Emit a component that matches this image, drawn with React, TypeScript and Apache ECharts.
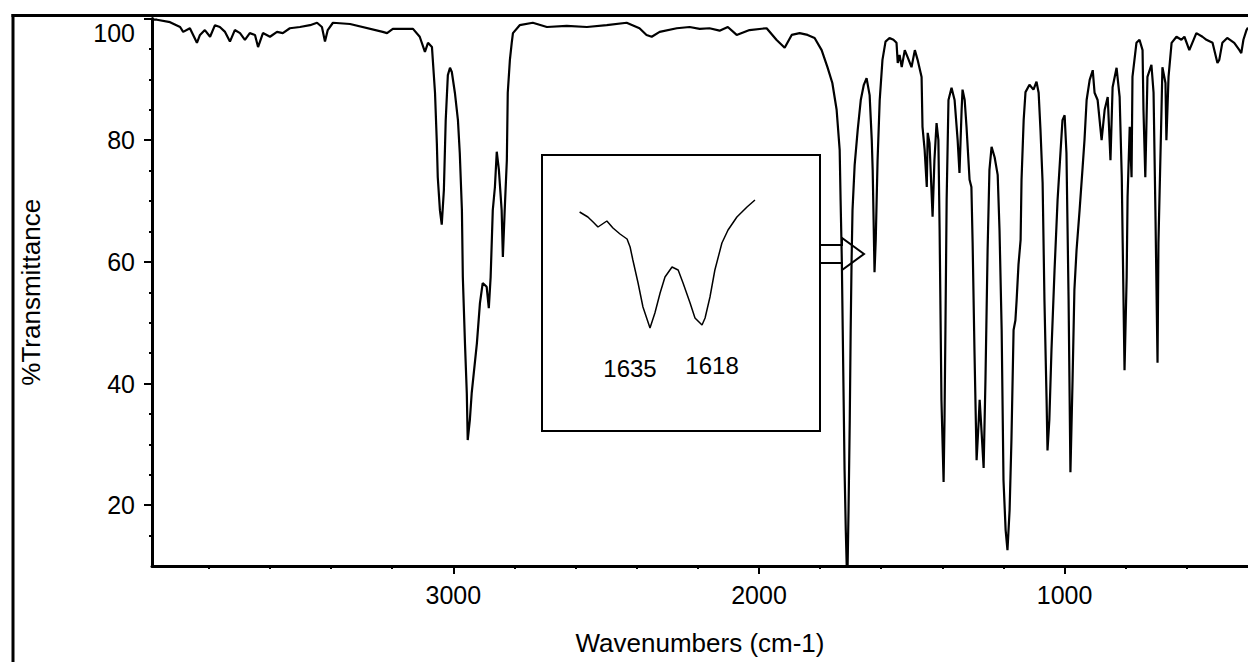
import React, { useEffect, useRef } from "react";
import * as echarts from "echarts";

// IR spectrum: [wavenumber cm-1, %T]
const spectrum: [number, number][] = [
  [3986, 99.8], [3970, 99.8], [3927, 99.4], [3894, 98.6], [3884, 97.8], [3862, 98.4], [3839, 96.0],
  [3829, 97.3], [3813, 98.1], [3796, 97.0], [3780, 98.9], [3764, 98.6], [3747, 97.8], [3731, 96.2],
  [3715, 98.1], [3698, 97.6], [3682, 96.5], [3666, 97.6], [3649, 97.3], [3639, 95.3], [3623, 97.6],
  [3600, 97.0], [3577, 97.8], [3558, 97.6], [3535, 98.4], [3502, 98.6], [3469, 98.9], [3446, 99.3],
  [3430, 98.6], [3420, 96.2], [3411, 98.1], [3394, 99.3], [3338, 99.1], [3231, 97.8], [3217, 97.6],
  [3198, 98.3], [3132, 98.3], [3110, 97.0], [3093, 94.5], [3083, 96.0], [3070, 95.3], [3060, 87.8],
  [3054, 79.5], [3051, 73.9], [3044, 68.5], [3038, 66.1], [3031, 71.8], [3025, 83.3], [3018, 90.7],
  [3011, 91.9], [3005, 91.2], [2995, 87.8], [2985, 83.3], [2979, 77.9], [2972, 68.5], [2969, 57.5],
  [2962, 46.6], [2956, 38.4], [2953, 30.7], [2946, 34.0], [2940, 38.4], [2923, 46.6], [2913, 53.2],
  [2904, 56.5], [2891, 55.9], [2884, 52.4], [2878, 57.5], [2871, 68.5], [2864, 72.3], [2858, 78.1],
  [2851, 75.1], [2842, 68.5], [2838, 60.8], [2832, 68.5], [2825, 76.7], [2822, 87.8], [2815, 93.2],
  [2809, 96.0], [2805, 97.6], [2783, 98.9], [2740, 99.3], [2694, 98.6], [2629, 98.8], [2563, 98.6],
  [2498, 98.9], [2433, 99.3], [2391, 98.4], [2368, 97.3], [2351, 97.0], [2325, 97.8], [2269, 98.4],
  [2227, 98.6], [2194, 98.3], [2162, 98.4], [2129, 98.0], [2102, 98.6], [2073, 97.3], [2031, 98.1],
  [1975, 98.4], [1943, 96.5], [1916, 95.2], [1893, 97.3], [1867, 97.6], [1841, 97.3], [1818, 96.8],
  [1795, 94.8], [1776, 92.0], [1760, 89.4], [1746, 85.0], [1736, 78.4], [1733, 70.2], [1729, 60.3],
  [1726, 48.8], [1723, 37.3], [1720, 25.8], [1716, 15.9], [1713, 10.1], [1710, 10.1], [1707, 19.2],
  [1703, 34.0], [1700, 48.8], [1697, 60.3], [1694, 68.5], [1687, 75.9], [1677, 81.7], [1667, 86.6],
  [1657, 89.1], [1648, 90.2], [1638, 87.4], [1631, 80.0], [1628, 75.1], [1625, 66.9], [1622, 58.3],
  [1618, 63.6], [1615, 70.2], [1612, 76.7], [1605, 86.6], [1596, 93.2], [1586, 96.2], [1573, 96.8],
  [1560, 96.5], [1550, 96.0], [1546, 92.7], [1540, 94.0], [1533, 92.0], [1523, 94.8], [1514, 93.7],
  [1501, 92.0], [1490, 94.8], [1481, 93.2], [1468, 90.4], [1465, 82.2], [1458, 78.4], [1451, 72.3],
  [1448, 81.2], [1442, 79.5], [1432, 67.4], [1426, 76.7], [1419, 82.8], [1413, 80.0], [1409, 65.2],
  [1403, 37.3], [1396, 23.8], [1393, 34.0], [1390, 48.8], [1386, 70.2], [1380, 86.6], [1370, 88.6],
  [1360, 86.6], [1350, 80.0], [1344, 74.6], [1337, 85.0], [1334, 88.3], [1327, 86.6], [1321, 82.2],
  [1311, 73.5], [1305, 72.3], [1301, 63.1], [1295, 45.5], [1288, 27.4], [1281, 34.0], [1278, 37.3],
  [1272, 32.3], [1265, 26.1], [1259, 40.6], [1252, 61.9], [1246, 75.1], [1239, 78.9], [1229, 77.2],
  [1219, 74.3], [1213, 65.2], [1206, 48.8], [1200, 24.1], [1193, 15.9], [1187, 12.6], [1180, 19.2],
  [1174, 30.7], [1167, 48.8], [1161, 50.4], [1157, 53.7], [1151, 59.5], [1144, 63.6], [1141, 73.5],
  [1134, 83.3], [1128, 87.9], [1115, 89.1], [1102, 88.3], [1092, 89.6], [1085, 87.8], [1079, 81.7],
  [1072, 73.0], [1066, 53.7], [1059, 37.3], [1056, 29.0], [1050, 34.0], [1043, 45.5], [1033, 58.6],
  [1023, 70.2], [1013, 78.4], [1007, 83.3], [1000, 84.1], [994, 77.9], [987, 53.7], [981, 25.4],
  [974, 40.6], [968, 55.4], [961, 61.9], [951, 68.5], [941, 75.6], [935, 80.0], [928, 86.6],
  [918, 89.9], [908, 91.5], [902, 87.8], [892, 86.6], [879, 80.0], [869, 85.0], [859, 87.1],
  [850, 76.7], [843, 88.7], [830, 91.9], [820, 87.1], [813, 73.9], [810, 63.1], [804, 42.2],
  [797, 57.5], [794, 70.7], [787, 82.2], [781, 73.9], [778, 90.4], [765, 96.0], [755, 96.5],
  [745, 94.8], [742, 85.0], [736, 73.9], [729, 90.4], [716, 92.4], [709, 87.8], [703, 68.5],
  [696, 43.4], [693, 63.1], [683, 85.0], [680, 92.0], [670, 89.4], [667, 80.0], [660, 90.4],
  [650, 96.0], [634, 97.0], [618, 96.5], [608, 97.0], [592, 94.8], [569, 97.6], [549, 97.0],
  [536, 96.5], [516, 96.0], [500, 92.7], [494, 93.2], [484, 96.0], [468, 96.8], [445, 96.0],
  [428, 94.8], [422, 94.3], [415, 96.5], [405, 98.1], [400, 98.5],
];

// Inset: expanded view of the 1660-1600 cm-1 doublet (relative %T)
const insetSpectrum: [number, number][] = [
  [1658, 70.6], [1655.3, 69.6], [1653.6, 68.6], [1652, 67.6], [1649.1, 68.8], [1647.1, 67.4],
  [1644.8, 66.2], [1642.5, 65.2], [1641.5, 63.6], [1640.6, 61.0], [1638.9, 56.4], [1637.3, 51.6],
  [1635, 47.4], [1633.4, 50.4], [1631.7, 54.4], [1630.1, 57.6], [1627.8, 59.6], [1625.8, 59.0],
  [1624.2, 56.4], [1621.9, 52.4], [1620.3, 49.4], [1618, 48.0], [1617, 49.4], [1615.4, 53.6],
  [1613.8, 59.0], [1611.5, 64.4], [1609.5, 67.0], [1606.6, 69.6], [1603.3, 71.6], [1600.7, 73.0],
];
const insetPeaks = [1635, 1618];

const xTicks = [1000, 2000, 3000];
const xMinorTicks = [600, 800, 1200, 1400, 1600, 1800, 2200, 2400, 2600, 2800, 3200, 3400, 3600, 3800];
const yTicks = [20, 40, 60, 80, 100];
const yMinorTicks = [15, 25, 30, 35, 45, 50, 55, 65, 70, 75, 85, 90, 95];

const FONT = "'Liberation Sans', Arial, sans-serif";

export default function App() {
  const ref = useRef<HTMLDivElement>(null);
  useEffect(() => {
    if (!ref.current) return;
    const chart = echarts.init(ref.current, undefined, { renderer: "svg" });
    const peakOffsets = [-20, 10];
    const option: any = {
      animation: false,
      backgroundColor: "#ffffff",
      grid: [
        { left: 152, top: 18.5, width: 1096.6, height: 547.5 },
        { left: 573.5, top: 190, width: 183.6, height: 150 },
      ],
      xAxis: [
        {
          type: "value", gridIndex: 0, position: "bottom", min: 400, max: 3986, inverse: true,
          axisLine: { show: true, lineStyle: { color: "#000", width: 3 } },
          axisTick: { show: true, customValues: xTicks, length: 8, lineStyle: { color: "#000", width: 2 } },
          axisLabel: {
            customValues: xTicks, color: "#000", fontSize: 25, fontFamily: FONT, margin: 16,
            formatter: (v: number) => String(v),
          },
          splitLine: { show: false },
          name: "Wavenumbers (cm-1)", nameLocation: "middle", nameGap: 64,
          nameTextStyle: { color: "#000", fontSize: 26, fontFamily: FONT },
        },
        {
          type: "value", gridIndex: 0, position: "bottom", min: 400, max: 3986, inverse: true,
          axisLine: { show: false },
          axisTick: { show: true, customValues: xMinorTicks, length: 3, lineStyle: { color: "#000", width: 2 } },
          axisLabel: { show: false }, splitLine: { show: false },
        },
        { type: "value", gridIndex: 1, min: 1600, max: 1660, inverse: true, show: false },
      ],
      yAxis: [
        {
          type: "value", gridIndex: 0, position: "left", min: 10, max: 100,
          axisLine: { show: true, lineStyle: { color: "#000", width: 3 } },
          axisTick: { show: true, customValues: yTicks, length: 8, lineStyle: { color: "#000", width: 2 } },
          axisLabel: {
            customValues: yTicks, color: "#000", fontSize: 25, fontFamily: FONT, margin: 17,
            formatter: (v: number) => (v === 100 ? "{top|100}" : String(v)),
            rich: { top: { padding: [29, 0, 0, 0], fontSize: 25, fontFamily: FONT, color: "#000" } },
          },
          splitLine: { show: false },
          name: "%Transmittance", nameLocation: "middle", nameGap: 108, nameRotate: 90,
          nameTextStyle: { color: "#000", fontSize: 26, fontFamily: FONT },
        },
        {
          type: "value", gridIndex: 0, position: "left", min: 10, max: 100,
          axisLine: { show: false },
          axisTick: { show: true, customValues: yMinorTicks, length: 3, lineStyle: { color: "#000", width: 2 } },
          axisLabel: { show: false }, splitLine: { show: false },
        },
        { type: "value", gridIndex: 1, min: 45, max: 75, show: false },
      ],
      series: [
        {
          type: "line", xAxisIndex: 0, yAxisIndex: 0, data: spectrum, showSymbol: false, silent: true,
          lineStyle: { color: "#000", width: 2.2 }, z: 3,
        },
        {
          type: "line", xAxisIndex: 2, yAxisIndex: 2, data: insetSpectrum, showSymbol: false, silent: true,
          lineStyle: { color: "#000", width: 1.5 },
          markPoint: {
            symbol: "circle", symbolSize: 1, itemStyle: { color: "rgba(0,0,0,0)" },
            data: insetPeaks.map((p, i) => {
              const pt = insetSpectrum.find((d) => d[0] === p)!;
              return {
                coord: [p, pt[1]],
                label: {
                  show: true, formatter: String(p), position: "inside", offset: [peakOffsets[i], 40],
                  color: "#000", fontSize: 24, fontFamily: FONT,
                },
              };
            }),
          },
        },
      ],
      graphic: [
        { type: "line", shape: { x1: 11.5, y1: 15.5, x2: 1248, y2: 15.5 }, style: { stroke: "#000", lineWidth: 3 } },
        { type: "line", shape: { x1: 13, y1: 14, x2: 13, y2: 662 }, style: { stroke: "#000", lineWidth: 3 } },
        { type: "rect", shape: { x: 542, y: 155, width: 278, height: 276 }, style: { fill: "none", stroke: "#000", lineWidth: 2 } },
        {
          type: "polygon",
          shape: { points: [[820, 245], [842, 245], [842, 238], [864, 254], [842, 270], [842, 263], [820, 263]] },
          style: { fill: "none", stroke: "#000", lineWidth: 2 },
        },
      ],
    };
    chart.setOption(option);
    return () => chart.dispose();
  }, []);
  return (
    <div
      ref={ref}
      style={{ position: "absolute", left: 0, top: 0, width: 1248, height: 662, background: "#fff" }}
    />
  );
}
